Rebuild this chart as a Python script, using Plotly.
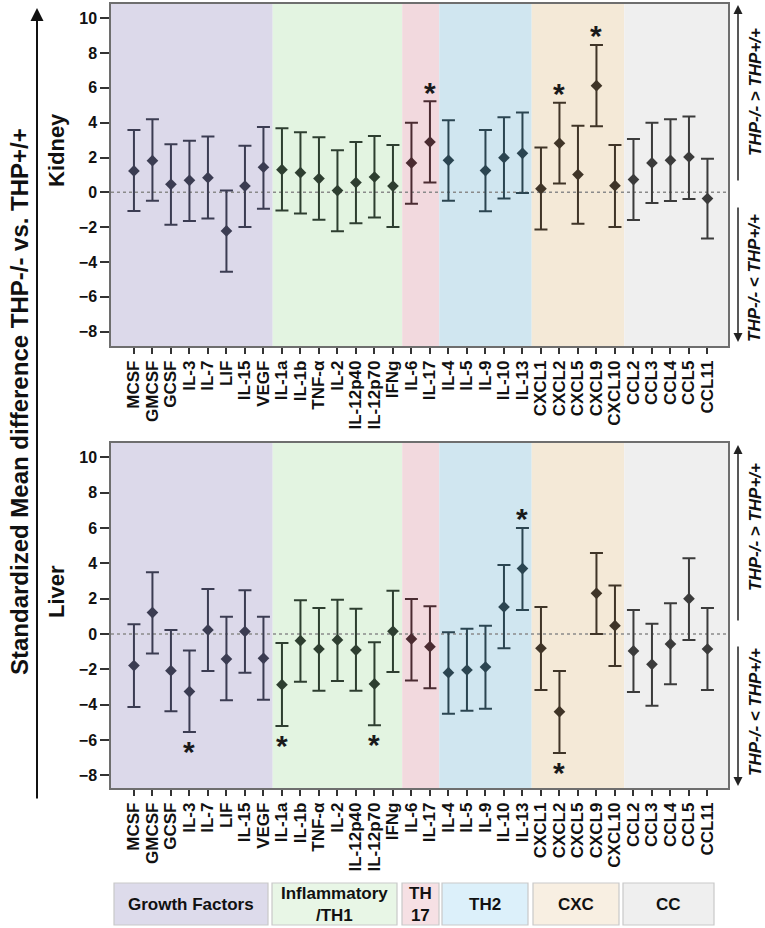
import plotly.graph_objects as go

# ---------------- data ----------------
cytokines = ["MCSF", "GMCSF", "GCSF", "IL-3", "IL-7", "LIF", "IL-15", "VEGF",
             "IL-1a", "IL-1b", "TNF-α", "IL-2", "IL-12p40", "IL-12p70", "IFNg",
             "IL-6", "IL-17",
             "IL-4", "IL-5", "IL-9", "IL-10", "IL-13",
             "CXCL1", "CXCL2", "CXCL5", "CXCL9", "CXCL10",
             "CCL2", "CCL3", "CCL4", "CCL5", "CCL11"]

groups = ["Growth Factors", "Inflammatory/TH1", "TH17", "TH2", "CXC", "CC"]
group_sizes = [8, 7, 2, 5, 5, 5]
group_legend_text = ["Growth Factors", "Inflammatory<br>/TH1", "TH<br>17", "TH2", "CXC", "CC"]

kidney_mean = [1.23, 1.82, 0.46, 0.69, 0.84, -2.22, 0.36, 1.44,
               1.30, 1.13, 0.79, 0.10, 0.56, 0.88, 0.36,
               1.69, 2.89,
               1.84, None, 1.25, 1.99, 2.24,
               0.21, 2.82, 1.02, 6.13, 0.38,
               0.73, 1.69, 1.84, 2.03, -0.36]
kidney_upper = [3.58, 4.20, 2.76, 2.97, 3.20, 0.11, 2.68, 3.75,
                3.68, 3.45, 3.16, 2.41, 2.89, 3.24, 2.72,
                4.00, 5.23,
                4.14, None, 3.58, 4.31, 4.58,
                2.57, 5.15, 3.83, 8.47, 2.72,
                3.07, 4.00, 4.20, 4.35, 1.93]
kidney_lower = [-1.07, -0.48, -1.86, -1.65, -1.51, -4.56, -1.99, -0.94,
                -1.05, -1.21, -1.57, -2.24, -1.78, -1.44, -1.99,
                -0.65, 0.57,
                -0.48, None, -1.09, -0.36, -0.04,
                -2.13, 0.50, -1.80, 3.79, -1.99,
                -1.59, -0.61, -0.50, -0.38, -2.66]

liver_mean = [-1.79, 1.21, -2.08, -3.26, 0.23, -1.42, 0.14, -1.38,
              -2.87, -0.38, -0.85, -0.34, -0.91, -2.83, 0.15,
              -0.28, -0.72,
              -2.19, -2.04, -1.87, 1.53, 3.70,
              -0.81, -4.40, None, 2.30, 0.47,
              -0.96, -1.72, -0.57, 2.00, -0.85]
liver_upper = [0.55, 3.49, 0.23, -0.94, 2.55, 0.98, 2.47, 0.98,
               -0.51, 1.91, 1.47, 1.94, 1.43, -0.47, 2.45,
               1.98, 1.57,
               0.09, 0.30, 0.47, 3.91, 6.00,
               1.53, -2.09, None, 4.58, 2.74,
               1.36, 0.58, 1.74, 4.28, 1.47]
liver_lower = [-4.13, -1.11, -4.38, -5.55, -2.09, -3.75, -2.19, -3.72,
               -5.21, -2.70, -3.21, -2.66, -3.21, -5.17, -2.15,
               -2.64, -3.08,
               -4.51, -4.34, -4.23, -0.81, 1.36,
               -3.17, -6.74, None, 0.00, -1.81,
               -3.28, -4.06, -2.85, -0.34, -3.17]

# significance: (cytokine, direction)
kidney_sig = [("IL-17", "up"), ("CXCL2", "up"), ("CXCL9", "up")]
liver_sig = [("IL-3", "down"), ("IL-1a", "down"), ("IL-12p70", "down"),
             ("IL-13", "up"), ("CXCL2", "down")]

y_ticks = [-8, -6, -4, -2, 0, 2, 4, 6, 8, 10]

# ---------------- style ----------------
W, H = 765, 928
band_colors = ["#dcd9ea", "#e3f4e1", "#f2d9de", "#d0e6f0", "#f4e9d7", "#efefef"]
legend_colors = ["#dddbeb", "#e8f6e6", "#f6e0e4", "#dcf0fa", "#f8efe2", "#efefef"]
bar_colors = ["#3b3c52", "#2e3e30", "#4a2b31", "#2b4551", "#3f3427", "#3b3b3b"]
FONT = "Liberation Sans, Arial, sans-serif"

def px(x):
    return x / W

def py(y):
    return 1 - y / H

x_range = [-1.24, 32.11]
panels = [
    dict(name="Kidney", mean=kidney_mean, up=kidney_upper, lo=kidney_lower, sig=kidney_sig,
         xa="x", ya="y", dom=[py(346), py(4)], yr=[-8.83, 10.82], label_y=150,
         arr=[(5, 182), (342, 206)], txt=[92, 278]),
    dict(name="Liver", mean=liver_mean, up=liver_upper, lo=liver_lower, sig=liver_sig,
         xa="x2", ya="y2", dom=[py(788), py(443)], yr=[-8.72, 10.81], label_y=592,
         arr=[(445, 622), (786, 645)], txt=[527, 712]),
]

fig = go.Figure()
shapes = []
annotations = []

def ann(**kw):
    d = dict(showarrow=False, xanchor="center", yanchor="middle")
    d.update(kw)
    annotations.append(d)

bounds = []
start = 0
for s in group_sizes:
    bounds.append((start, start + s))
    start += s

for p in panels:
    for gi, (a, b) in enumerate(bounds):
        xs, ys, ep, em = [], [], [], []
        for i in range(a, b):
            if p["mean"][i] is None:
                continue
            xs.append(i)
            ys.append(p["mean"][i])
            ep.append(p["up"][i] - p["mean"][i])
            em.append(p["mean"][i] - p["lo"][i])
        fig.add_trace(go.Scatter(
            x=xs, y=ys, mode="markers", xaxis=p["xa"], yaxis=p["ya"],
            marker=dict(symbol="diamond", size=9, color=bar_colors[gi]),
            error_y=dict(type="data", array=ep, arrayminus=em, visible=True,
                         color=bar_colors[gi], thickness=2, width=6.5),
            showlegend=False, hoverinfo="skip"))
        x0 = x_range[0] if gi == 0 else a - 0.5
        x1 = x_range[1] if gi == len(bounds) - 1 else b - 0.5
        shapes.append(dict(type="rect", xref=p["xa"], yref=p["ya"],
                           x0=x0, x1=x1, y0=p["yr"][0], y1=p["yr"][1],
                           fillcolor=band_colors[gi], line=dict(width=0), layer="below"))
    shapes.append(dict(type="line", xref=p["xa"], yref=p["ya"], x0=x_range[0], x1=x_range[1],
                       y0=0, y1=0, line=dict(color="#8a8a8a", width=1.5, dash="dot"), layer="below"))
    for name, d in p["sig"]:
        i = cytokines.index(name)
        yv = p["up"][i] + 0.8 if d == "up" else p["lo"][i] - 0.8
        ann(x=i, y=yv, xref=p["xa"], yref=p["ya"], text="<b>*</b>", yshift=-5,
            font=dict(size=30, family=FONT, color="#1a1a1a"))
    ann(x=px(56), y=py(p["label_y"]), xref="paper", yref="paper",
        text="<b>" + p["name"] + "</b>", textangle=-90,
        font=dict(size=22, family=FONT, color="#111"))
    for tip, tail in p["arr"]:
        annotations.append(dict(x=px(738), y=py(tip), xref="paper", yref="paper", ax=0, ay=tail - tip,
                                text="", showarrow=True, arrowhead=2, arrowsize=1.2,
                                arrowwidth=1.5, arrowcolor="#222"))
    ann(x=px(755), y=py(p["txt"][0]), xref="paper", yref="paper",
        text="<b><i>THP-/- &gt; THP+/+</i></b>", textangle=-90,
        font=dict(size=17, family=FONT, color="#111"))
    ann(x=px(755), y=py(p["txt"][1]), xref="paper", yref="paper",
        text="<b><i>THP-/- &lt; THP+/+</i></b>", textangle=-90,
        font=dict(size=17, family=FONT, color="#111"))

# big left title and arrow
annotations.append(dict(x=px(37), y=py(8), xref="paper", yref="paper", ax=0, ay=792,
                        text="", showarrow=True, arrowhead=2, arrowsize=1.3,
                        arrowwidth=2, arrowcolor="#111"))
ann(x=px(19), y=py(402), xref="paper", yref="paper",
    text="<b>Standardized Mean difference THP-/- vs. THP+/+</b>", textangle=-90,
    font=dict(size=24, family=FONT, color="#111"))

# bottom legend boxes
legend_boxes = [(114, 268), (272, 397), (402, 439), (442, 528), (533, 619), (623, 714)]
for gi, (x0, x1) in enumerate(legend_boxes):
    shapes.append(dict(type="rect", xref="paper", yref="paper", x0=px(x0), x1=px(x1),
                       y0=py(925), y1=py(883), fillcolor=legend_colors[gi],
                       line=dict(color="#c9c9c9", width=1.2)))
    ann(x=px((x0 + x1) / 2), y=py(904), xref="paper", yref="paper",
        text="<b>" + group_legend_text[gi] + "</b>",
        font=dict(size=17, family=FONT, color="#111"))

xaxis_style = dict(range=x_range, tickmode="array", tickvals=list(range(len(cytokines))),
                   ticktext=cytokines, tickangle=-90, ticks="outside", ticklen=6,
                   tickwidth=1.5, tickcolor="#333", automargin=False,
                   tickfont=dict(size=17, family=FONT, color="#111", weight="bold"),
                   showline=True, mirror=True, linecolor="#6e6e6e", linewidth=1.5,
                   showgrid=False, zeroline=False, domain=[px(111), px(728)])
yaxis_style = dict(tickmode="array", tickvals=y_ticks, ticks="outside", ticklen=9,
                   tickwidth=1.5, tickcolor="#333", automargin=False,
                   tickfont=dict(size=16, family=FONT, color="#111", weight="bold"),
                   showline=True, mirror=True, linecolor="#6e6e6e", linewidth=1.5,
                   showgrid=False, zeroline=False)

fig.update_layout(
    width=W, height=H, margin=dict(l=0, r=0, t=0, b=0, autoexpand=False),
    paper_bgcolor="white", plot_bgcolor="white",
    xaxis=dict(**xaxis_style, anchor="y"),
    xaxis2=dict(**xaxis_style, anchor="y2"),
    yaxis=dict(**yaxis_style, range=panels[0]["yr"], domain=panels[0]["dom"], anchor="x"),
    yaxis2=dict(**yaxis_style, range=panels[1]["yr"], domain=panels[1]["dom"], anchor="x2"),
    shapes=shapes, annotations=annotations, showlegend=False,
)

fig.write_html("out.html", config={"displayModeBar": False},
               post_script="document.body.style.margin='0';")
